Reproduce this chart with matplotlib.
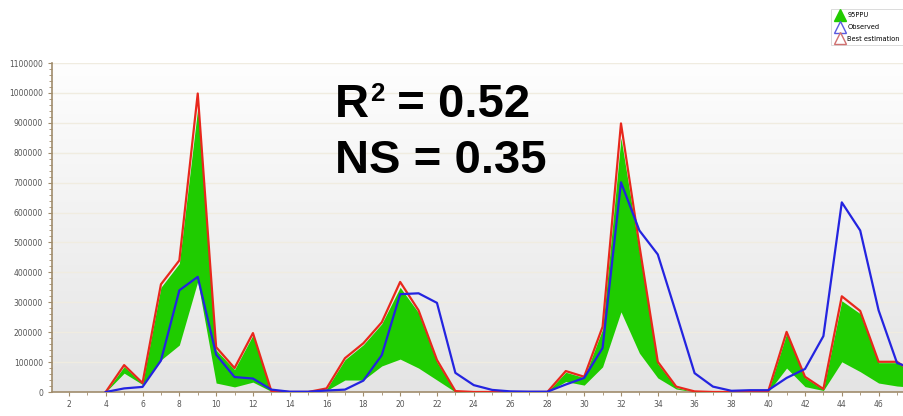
import numpy as np
import matplotlib
matplotlib.use("Agg")
import matplotlib.pyplot as plt
from matplotlib.lines import Line2D
from matplotlib.colors import LinearSegmentedColormap

# ---- data ----
days = list(range(4, 49))
observed = [0, 12000, 17000, 105000, 340000, 385000, 125000, 50000, 45000, 8000,
            1000, 1000, 5000, 8000, 38000, 123000, 327000, 330000, 298000, 64000,
            23000, 7000, 2000, 1000, 1000, 25000, 47000, 147000, 701000, 540000,
            460000, 263000, 63000, 18000, 4000, 6000, 6000, 47000, 77000, 187000,
            634000, 540000, 273000, 97000, 75000]
best_est = [0, 90000, 30000, 360000, 440000, 998000, 150000, 80000, 197000, 3000,
            0, 0, 12000, 113000, 163000, 233000, 368000, 273000, 107000, 3000,
            0, 0, 0, 0, 0, 70000, 51000, 218000, 898000, 490000,
            101000, 18000, 2000, 0, 0, 0, 2000, 201000, 51000, 10000,
            320000, 271000, 101000, 101000, 60000]
ppu_upper = [0, 85000, 28000, 350000, 430000, 950000, 140000, 75000, 190000, 3000,
             0, 0, 10000, 108000, 158000, 228000, 350000, 265000, 100000, 2000,
             0, 0, 0, 0, 0, 66000, 48000, 210000, 850000, 470000,
             95000, 15000, 1000, 0, 0, 0, 1000, 195000, 48000, 8000,
             305000, 262000, 98000, 98000, 58000]
ppu_lower = [0, 63000, 25000, 107000, 157000, 370000, 30000, 17000, 33000, 2000,
             0, 0, 5000, 40000, 40000, 87000, 110000, 80000, 40000, 0,
             0, 0, 0, 0, 0, 35000, 23000, 84000, 268000, 130000,
             47000, 10000, 0, 0, 0, 0, 0, 80000, 18000, 5000,
             101000, 68000, 30000, 20000, 15000]

y_ticks = list(range(0, 1100001, 100000))
x_ticks = list(range(2, 47, 2))
legend_labels = ["95PPU", "Observed", "Best estimation"]

W, H = 904, 416
fig = plt.figure(figsize=(W / 100, H / 100), dpi=100)
fig.patch.set_facecolor("white")

ax_l, ax_r, ax_t, ax_b = 52, 904, 63, 392
ax = fig.add_axes([ax_l / W, 1 - ax_b / H, (ax_r - ax_l) / W, (ax_b - ax_t) / H])

xlim = (1.08, 47.38)
ylim = (0, 1100000)

# gradient background
grad = np.linspace(0, 1, 256).reshape(-1, 1)
cmap = LinearSegmentedColormap.from_list("bg", ["#e4e4e4", "#fefefe"])
ax.imshow(grad, aspect="auto", cmap=cmap, origin="lower",
          extent=[xlim[0], xlim[1], ylim[0], ylim[1]], zorder=0)

for yv in y_ticks[1:]:
    ax.axhline(yv, color="#f0ece0", lw=1.0, zorder=1)

ax.fill_between(days, ppu_lower, ppu_upper, color="#1fcc00", lw=0, zorder=2)
ax.plot(days, best_est, color="#e8281c", lw=1.6, zorder=3)
ax.plot(days, observed, color="#2424e0", lw=1.6, zorder=4)

ax.set_xlim(*xlim)
ax.set_ylim(*ylim)

ax.set_yticks(y_ticks)
ax.set_yticklabels([str(v) for v in y_ticks])
ax.set_yticks(list(range(0, 1100001, 20000)), minor=True)
ax.set_xticks(x_ticks)
ax.set_xticks(list(range(2, 48)), minor=True)
ax.tick_params(axis="both", which="major", labelsize=5.5, colors="#a08c6c",
               labelcolor="#555555", length=3, width=0.8)
ax.tick_params(axis="both", which="minor", colors="#a08c6c", length=2, width=0.6)
ax.tick_params(axis="x", pad=3)

for s in ["top", "right"]:
    ax.spines[s].set_visible(False)
for s in ["left", "bottom"]:
    ax.spines[s].set_color("#a08c6c")
    ax.spines[s].set_linewidth(1.2)

# annotation
renderer = fig.canvas.get_renderer()
fs = 34
tf = dict(fontweight="bold", family="Liberation Sans", color="black", va="baseline")
x0 = 335 / W
t1 = fig.text(x0, 1 - 117 / H, "R", fontsize=fs, **tf)
bb = t1.get_window_extent(renderer)
t2 = fig.text(bb.x1 / W + 0.001, 1 - 101 / H, "2", fontsize=fs * 0.55, **tf)
bb2 = t2.get_window_extent(renderer)
fig.text(bb2.x1 / W, 1 - 117 / H, " = 0.52", fontsize=fs, **tf)
fig.text(x0, 1 - 173 / H, "NS = 0.35", fontsize=fs, **tf)

# legend
handles = [
    Line2D([], [], ls="none", marker="^", markersize=9, markerfacecolor="#22cc00",
           markeredgecolor="#22cc00"),
    Line2D([], [], ls="none", marker="^", markersize=9, markerfacecolor="none",
           markeredgecolor="#5a5ae0"),
    Line2D([], [], ls="none", marker="^", markersize=9, markerfacecolor="none",
           markeredgecolor="#d07070"),
]
leg = fig.legend(handles, legend_labels,
                 loc="upper right", bbox_to_anchor=(903 / W, 1 - 9 / H),
                 fontsize=4.8, frameon=True, handlelength=1.5, handletextpad=0.35,
                 labelspacing=0.85, borderpad=0.5, borderaxespad=0, fancybox=False)
leg.get_frame().set_edgecolor("#cccccc")
leg.get_frame().set_linewidth(0.6)

fig.savefig("out.png", dpi=100)
